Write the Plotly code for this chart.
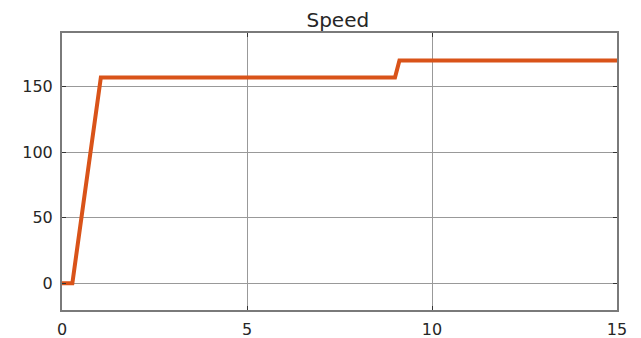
import plotly.graph_objects as go

time_s = [0, 0.28, 1.05, 9.0, 9.12, 15]
speed = [0, 0, 157, 157, 170, 170]
x_ticks = [0, 5, 10, 15]
y_ticks = [0, 50, 100, 150]

fig = go.Figure()
fig.add_trace(go.Scatter(x=time_s, y=speed, mode="lines",
                         line=dict(color="#D95319", width=4), showlegend=False))

axis_common = dict(showline=True, linecolor="#7a7a7a", linewidth=2, mirror="ticks",
                   ticks="inside", ticklen=4, tickcolor="#333", showgrid=True,
                   gridcolor="#999999", gridwidth=1, zeroline=False, automargin=False,
                   tickfont=dict(family="DejaVu Sans", size=16, color="#262626"))

fig.update_xaxes(range=[0, 15], tickvals=x_ticks, ticklabelstandoff=4, **axis_common)
fig.update_yaxes(range=[-20.5, 191], tickvals=y_ticks, ticklabelstandoff=4, **axis_common)

fig.update_layout(
    width=633, height=330,
    margin=dict(l=54, r=24, t=25, b=28),
    paper_bgcolor="white", plot_bgcolor="white",
    title=dict(text="Speed", x=0.521, xanchor="center", y=0.965, yanchor="middle",
               font=dict(family="DejaVu Sans", size=20, color="#262626")),
)

fig.write_html("out.html")
